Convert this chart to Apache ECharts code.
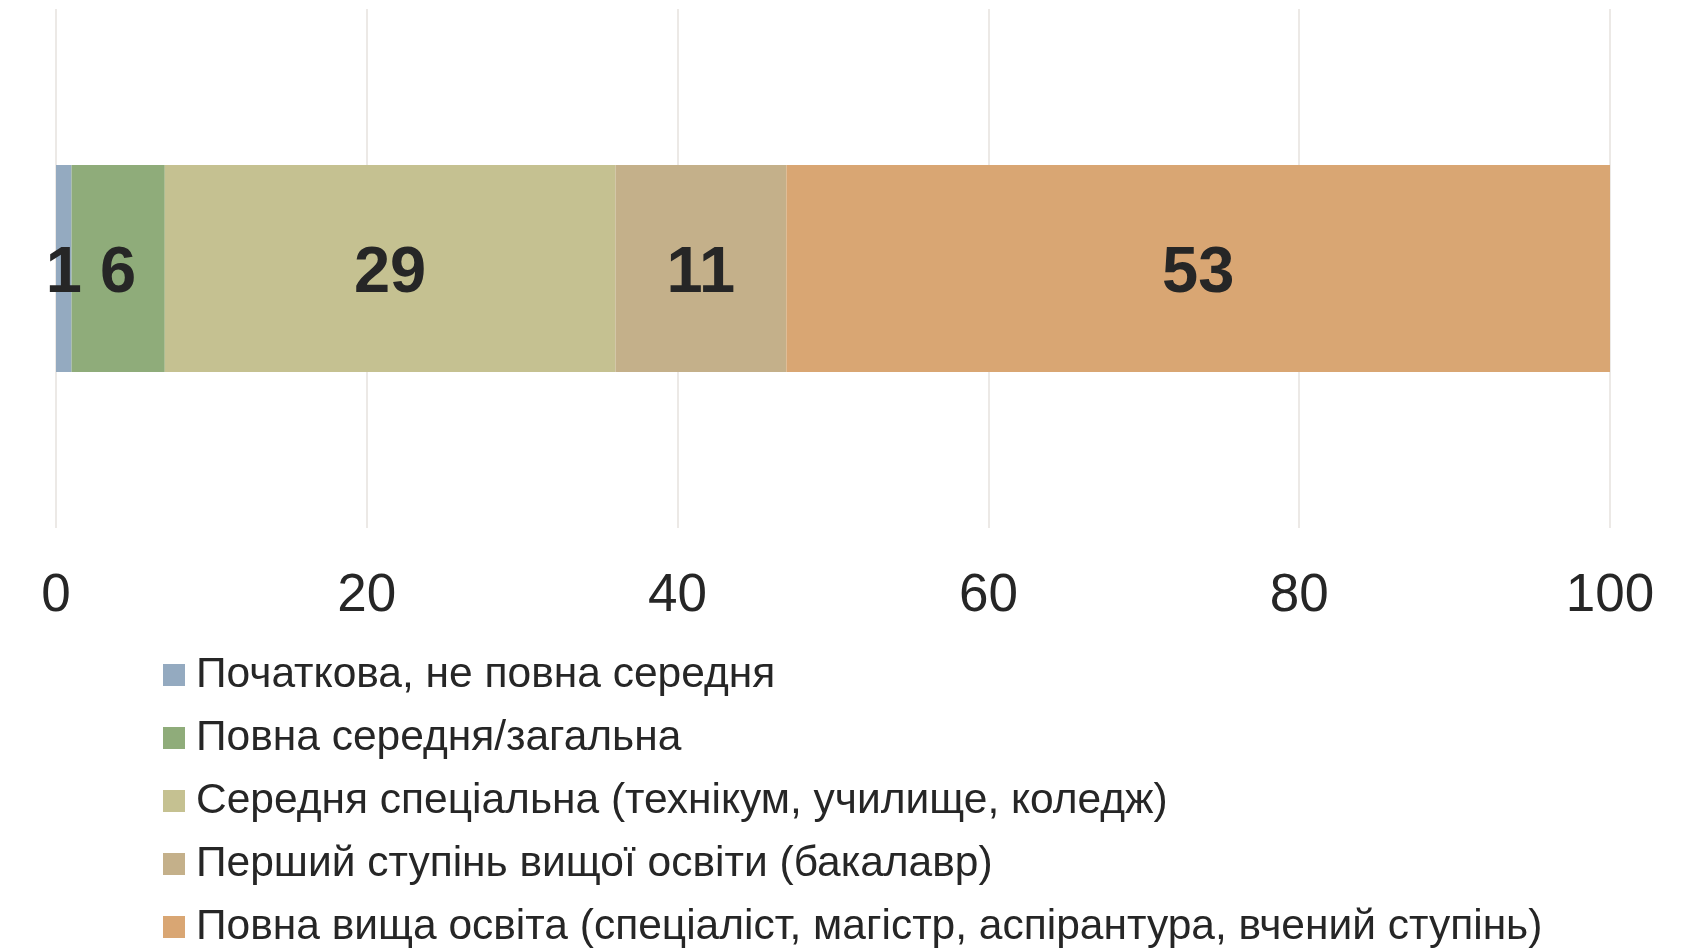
<!DOCTYPE html>
<html>
<head>
<meta charset="utf-8">
<script src="https://cdn.jsdelivr.net/npm/echarts@6/dist/echarts.min.js"></script>
<style>
html,body{margin:0;padding:0;background:#fff;}
#chart{width:1705px;height:951px;}
</style>
</head>
<body>
<div id="chart"></div>
<script>
const categories = ['Освіта'];
const seriesNames = [
  'Початкова, не повна середня',
  'Повна середня/загальна',
  'Середня спеціальна (технікум, училище, коледж)',
  'Перший ступінь вищої освіти (бакалавр)',
  'Повна вища освіта (спеціаліст, магістр, аспірантура, вчений ступінь)'
];
const seriesValues = [1, 6, 29, 11, 53];
const seriesColors = ['#94AAC0', '#8FAC7A', '#C5C191', '#C4B08A', '#D9A673'];
const xTicks = [0, 20, 40, 60, 80, 100];

const chart = echarts.init(document.getElementById('chart'));
const series = seriesNames.map((name, i) => ({
  name: name,
  type: 'bar',
  stack: 'total',
  barWidth: 207,
  data: [seriesValues[i]],
  itemStyle: { color: seriesColors[i] },
  label: {
    show: true,
    position: 'inside',
    offset: [0, 6],
    fontFamily: 'Liberation Sans, Arial, sans-serif',
    fontWeight: 'bold',
    fontSize: 65,
    color: '#262626'
  },
  emphasis: { disabled: true }
}));

chart.setOption({
  animation: false,
  backgroundColor: '#fff',
  grid: { left: 56, right: 95, top: 9, bottom: 423, containLabel: false },
  xAxis: {
    type: 'value',
    min: xTicks[0],
    max: xTicks[xTicks.length - 1],
    interval: 20,
    axisLine: { show: false },
    axisTick: { show: false },
    splitLine: { show: true, lineStyle: { color: '#E6E2DE', width: 1.5 } },
    axisLabel: {
      fontFamily: 'Liberation Sans, Arial, sans-serif',
      fontSize: 53,
      color: '#262626',
      margin: 42
    }
  },
  yAxis: {
    type: 'category',
    data: categories,
    axisLine: { show: false },
    axisTick: { show: false },
    axisLabel: { show: false }
  },
  legend: {
    orient: 'vertical',
    left: 163,
    top: 652,
    height: 299,
    padding: 0,
    itemWidth: 22,
    itemHeight: 22,
    itemGap: 17,
    icon: 'rect',
    data: seriesNames,
    textStyle: {
      fontFamily: 'Liberation Sans, Arial, sans-serif',
      fontSize: 42.5,
      lineHeight: 46,
      color: '#262626',
      padding: [0, 0, 0, 6]
    }
  },
  series: series
});
</script>
</body>
</html>
